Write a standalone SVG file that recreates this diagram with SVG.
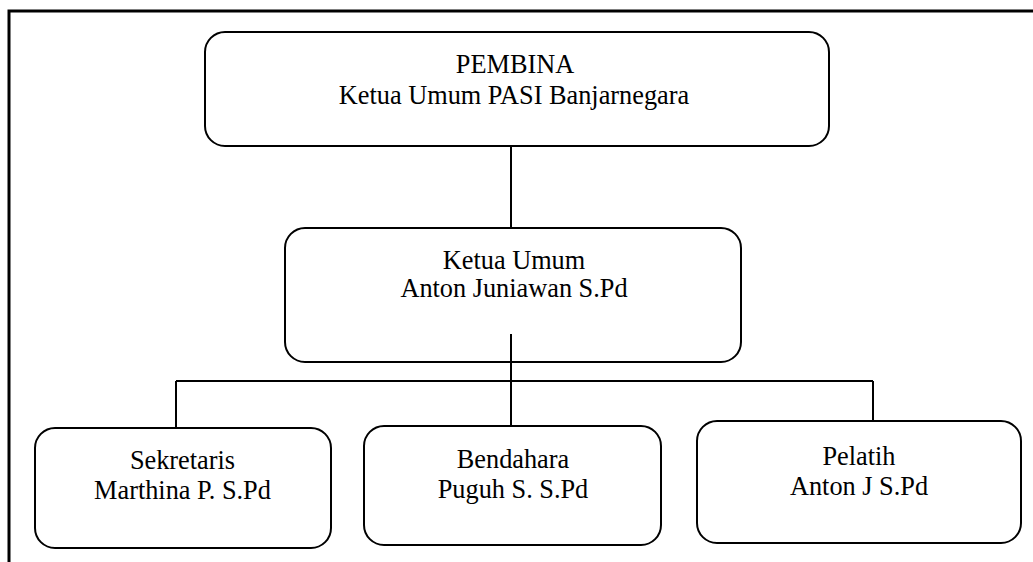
<svg xmlns="http://www.w3.org/2000/svg" width="1033" height="562" viewBox="0 0 1033 562">
<style>
.box{fill:#fff;stroke:#000;stroke-width:2}
.t{font-family:"Liberation Serif","Times New Roman",serif;font-size:26.3px;fill:#000;text-anchor:middle}
.c{stroke:#000;stroke-width:2;fill:none}
</style>
<rect width="1033" height="562" fill="#fff"/>
<path d="M9,562 V11 H1033" fill="none" stroke="#000" stroke-width="3"/>
<g id="pembina">
<rect class="box" x="205" y="32" width="624" height="114" rx="20"/>
<text class="t" x="515" y="73">PEMBINA</text>
<text class="t" x="514" y="104">Ketua Umum PASI Banjarnegara</text>
</g>
<g id="ketua">
<rect class="box" x="285" y="228" width="456" height="134" rx="20"/>
<text class="t" x="514" y="269">Ketua Umum</text>
<text class="t" x="514" y="297">Anton Juniawan S.Pd</text>
</g>
<g id="sekretaris">
<rect class="box" x="35" y="428" width="296" height="120" rx="20"/>
<text class="t" x="182.5" y="469">Sekretaris</text>
<text class="t" x="182.5" y="499">Marthina P. S.Pd</text>
</g>
<g id="bendahara">
<rect class="box" x="364" y="426" width="297" height="119" rx="20"/>
<text class="t" x="513" y="468">Bendahara</text>
<text class="t" x="513" y="498">Puguh S. S.Pd</text>
</g>
<g id="pelatih">
<rect class="box" x="697" y="421" width="324" height="122" rx="20"/>
<text class="t" x="859" y="465">Pelatih</text>
<text class="t" x="859" y="495">Anton J S.Pd</text>
</g>
<g id="connectors">
<line class="c" x1="511" y1="146" x2="511" y2="228"/>
<line class="c" x1="511" y1="334" x2="511" y2="426"/>
<line class="c" x1="176" y1="381" x2="873" y2="381"/>
<line class="c" x1="176" y1="381" x2="176" y2="428"/>
<line class="c" x1="873" y1="381" x2="873" y2="421"/>
</g>
</svg>
